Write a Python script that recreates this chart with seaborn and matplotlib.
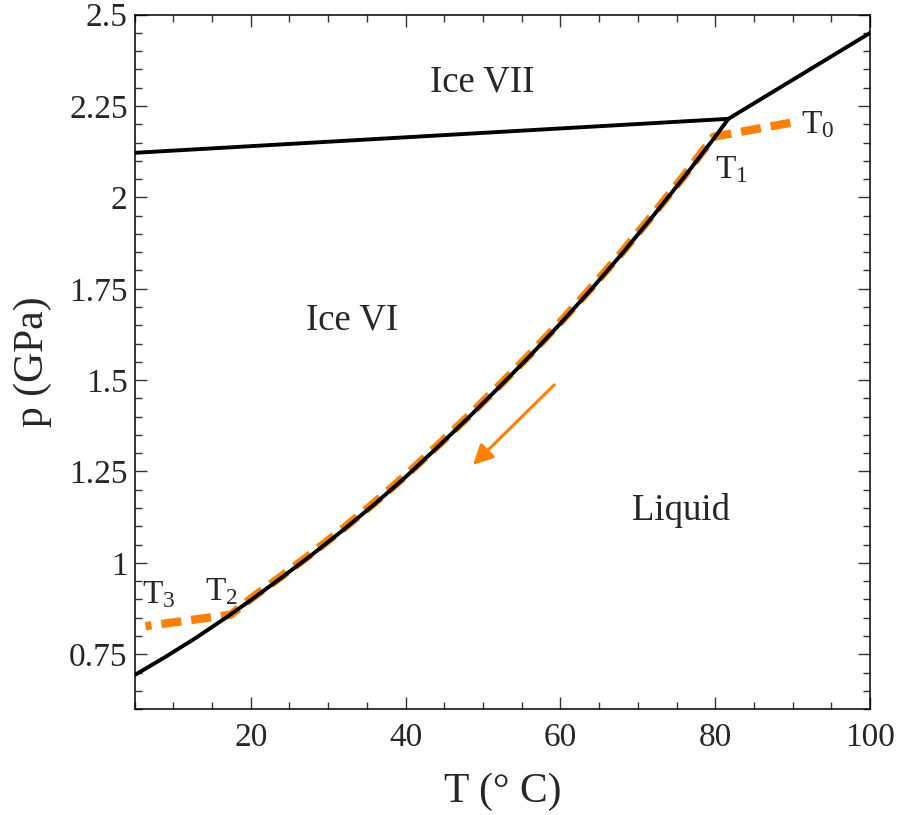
import matplotlib
matplotlib.use('Agg')
import matplotlib.pyplot as plt
from matplotlib.ticker import MultipleLocator
import numpy as np
import pandas as pd
import seaborn as sns

# phase boundaries
melt_T = [5, 9, 13, 17, 20, 24, 28, 32, 36, 40, 44, 48, 52, 56, 60, 64, 68, 72, 76, 80, 81.7]
melt_p = [0.693, 0.743, 0.796, 0.853, 0.898, 0.960, 1.024, 1.091, 1.161, 1.235, 1.314,
          1.395, 1.479, 1.565, 1.655, 1.749, 1.847, 1.950, 2.056, 2.166, 2.215]

vii_T = [5, 81.7]
vii_p = [2.122, 2.215]

vii_liq_T = [81.7, 100]
vii_liq_p = [2.215, 2.45]

# process path T0 -> T1 -> T2 -> T3
path_T = [89.7, 79.8, 76, 72, 68, 64, 60, 56, 52, 48, 44, 40, 36, 32, 28, 24, 20, 17.4, 6.4]
path_p = [2.204, 2.166, 2.060, 1.954, 1.851, 1.753, 1.659, 1.569, 1.483, 1.399, 1.318,
          1.239, 1.165, 1.095, 1.028, 0.964, 0.902, 0.858, 0.827]

arrow_from = (59.2, 1.487)
arrow_to = (48.7, 1.268)

regions = ['Ice VII', 'Ice VI', 'Liquid']
region_T = [49.9, 33.1, 75.6]
region_p = [2.314, 1.665, 1.142]

pt_labels = [r'$\mathrm{T}_0$', r'$\mathrm{T}_1$', r'$\mathrm{T}_2$', r'$\mathrm{T}_3$']
pt_T = [93.3, 82.1, 16.2, 8.05]
pt_p = [2.199, 2.076, 0.921, 0.912]

sns.set_style('ticks')
plt.rcParams['font.family'] = ['Liberation Serif', 'DejaVu Serif']
plt.rcParams['mathtext.fontset'] = 'custom'
plt.rcParams['mathtext.rm'] = 'Liberation Serif'
plt.rcParams['mathtext.it'] = 'Liberation Serif:italic'

orange = '#ff8000'

fig = plt.figure(figsize=(8.99, 8.15), dpi=100)
ax = fig.add_axes([0.1498, 0.130, 0.818, 0.852])

path = pd.DataFrame({'T': path_T, 'p': path_p})
sns.lineplot(data=path, x='T', y='p', sort=False, ax=ax, color=orange,
             lw=6.0, dashes=False, zorder=2)
ax.lines[-1].set_dashes((2.4, 1.2))

for xs, ys in [(melt_T, melt_p), (vii_T, vii_p), (vii_liq_T, vii_liq_p)]:
    sns.lineplot(x=xs, y=ys, sort=False, ax=ax, color='black', lw=2.8, zorder=3)

ax.annotate('', xy=arrow_to, xytext=arrow_from,
            arrowprops=dict(arrowstyle='-|>', color=orange, lw=2.2,
                            mutation_scale=30, shrinkA=0, shrinkB=0))

for name, x, y in zip(regions, region_T, region_p):
    ax.text(x, y, name, ha='center', va='center', fontsize=26.5)
for name, x, y in zip(pt_labels, pt_T, pt_p):
    ax.text(x, y, name, ha='center', va='center', fontsize=24)

ax.set_xlim(5, 100)
ax.set_ylim(0.6, 2.5)
ax.xaxis.set_minor_locator(MultipleLocator(5))
ax.yaxis.set_minor_locator(MultipleLocator(0.05))
ax.set_yticks([0.75, 1, 1.25, 1.5, 1.75, 2, 2.25, 2.5])
ax.set_yticklabels(['0.75', '1', '1.25', '1.5', '1.75', '2', '2.25', '2.5'])
ax.set_xticks([20, 40, 60, 80, 100])

ax.tick_params(which='both', direction='in', top=True, right=True, labelsize=24,
               width=1, color='#333333')
ax.tick_params(which='major', length=8.5)
ax.tick_params(axis='x', which='major', pad=10)
ax.tick_params(axis='y', which='major', pad=5)
ax.tick_params(which='minor', length=4.8)
for s in ax.spines.values():
    s.set_linewidth(1.1)
    s.set_color('black')

ax.set_xlabel('T (° C)', fontsize=30, labelpad=14)
ax.set_ylabel('p (GPa)', fontsize=30, labelpad=12)

fig.savefig('out.png', dpi=100)
